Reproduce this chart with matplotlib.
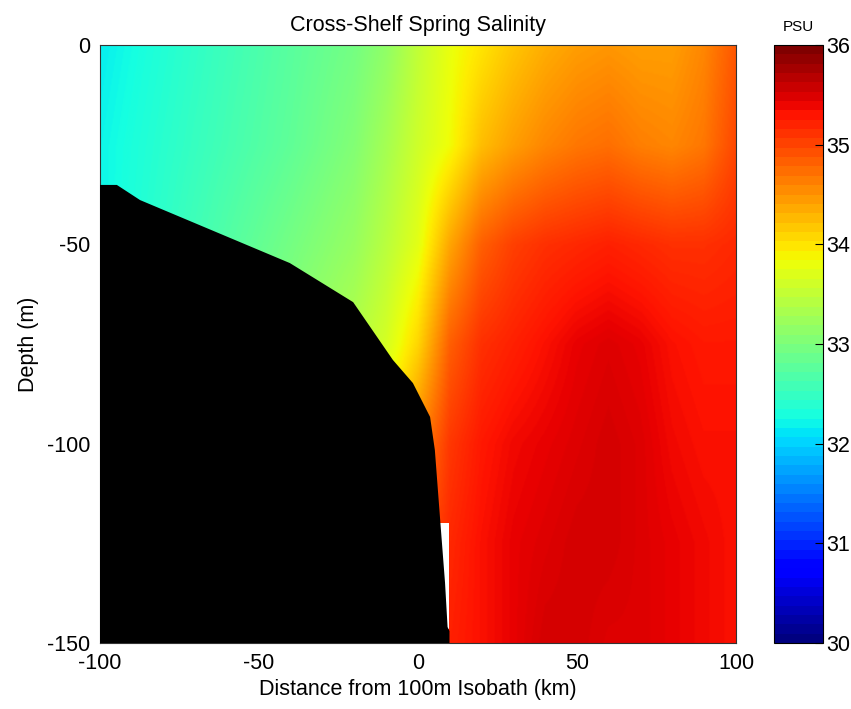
import numpy as np
import matplotlib
matplotlib.use("Agg")
import matplotlib.pyplot as plt
from matplotlib.colors import Normalize
from matplotlib.cm import ScalarMappable

plt.rcParams['font.family'] = ['Liberation Sans', 'DejaVu Sans']
plt.rcParams['axes.unicode_minus'] = False

# Section grid: distance from the 100 m isobath (km) and depth (m)
dist_km = [-100, -80, -60, -40, -20, -10, 0, 10, 20, 30, 40, 50, 60, 70, 80, 90, 100]
depth_m = [0, -25, -50, -75, -100, -125, -150]

# Salinity (PSU), one row per depth level
sal_0   = [32.15, 32.35, 32.55, 32.75, 32.95, 33.15, 33.50, 33.80, 34.00, 34.20, 34.35, 34.45, 34.50, 34.45, 34.45, 34.60, 34.90]
sal_25  = [32.20, 32.40, 32.60, 32.80, 33.05, 33.30, 33.60, 33.85, 34.25, 34.45, 34.60, 34.70, 34.75, 34.65, 34.60, 34.70, 35.00]
sal_50  = [32.20, 32.45, 32.70, 32.95, 33.20, 33.45, 33.75, 34.40, 34.85, 35.05, 35.15, 35.20, 35.25, 35.20, 35.15, 35.15, 35.20]
sal_75  = [32.30, 32.50, 32.80, 33.10, 33.40, 33.65, 34.10, 34.85, 35.15, 35.25, 35.35, 35.45, 35.50, 35.45, 35.35, 35.30, 35.30]
sal_100 = [32.40, 32.60, 32.90, 33.20, 33.60, 34.00, 34.60, 35.10, 35.30, 35.40, 35.45, 35.50, 35.55, 35.50, 35.40, 35.35, 35.35]
sal_125 = [32.50, 32.70, 33.00, 33.30, 33.80, 34.30, 34.90, 35.20, 35.35, 35.45, 35.50, 35.55, 35.55, 35.50, 35.45, 35.40, 35.35]
sal_150 = [32.60, 32.80, 33.10, 33.40, 34.00, 34.50, 35.00, 35.25, 35.35, 35.45, 35.55, 35.55, 35.50, 35.50, 35.45, 35.40, 35.35]

# Bottom profile (km, m)
bath_x = [-100.0, -94.7, -87.4, -40.3, -20.4, -7.9, -1.6, 3.8, 5.3, 6.9, 8.5, 9.3, 9.9, 9.9]
bath_z = [-35.1, -35.1, -38.9, -54.7, -64.5, -79.0, -84.8, -93.3, -101.6, -118.4, -134.9, -146.0, -147.0, -150.0]

# Gap with no observations next to the slope
gap_x = [5.0, 9.8, 9.8, 5.0]
gap_z = [-119.8, -119.8, -146.5, -146.5]

sal = np.array([sal_0, sal_25, sal_50, sal_75, sal_100, sal_125, sal_150])
dx = np.array(dist_km, dtype=float)
dz = np.array(depth_m, dtype=float)

# Bilinear interpolation onto a fine grid (interpolated shading)
xf = np.linspace(-100, 100, 601)
zf = np.linspace(0, -150, 451)
rows = np.array([np.interp(xf, dx, r) for r in sal])
field = np.array([np.interp(-zf, -dz, rows[:, j]) for j in range(xf.size)]).T

norm = Normalize(30, 36)

fig = plt.figure(figsize=(8.51, 7.09), dpi=100)
ax = fig.add_axes([100 / 851, 1 - 643 / 709, 636 / 851, 598 / 709])
ax.imshow(field, extent=[-100, 100, -150, 0], origin='upper', aspect='auto',
          cmap='jet', norm=norm, interpolation='bicubic')
ax.fill(gap_x, gap_z, color='white', lw=0, zorder=2)
ax.fill(bath_x + [-100.0], bath_z + [-150.0], color='black', lw=0, zorder=3)

ax.set_xlim(-100, 100)
ax.set_ylim(-150, 0)
ax.set_xticks([-100, -50, 0, 50, 100])
ax.set_yticks([-150, -100, -50, 0])
ax.tick_params(length=0, labelsize=15.5, pad=7)
for s in ax.spines.values():
    s.set_linewidth(0.8)
    s.set_color('#333333')
ax.set_title('Cross-Shelf Spring Salinity', fontsize=15.5, pad=10)
ax.set_xlabel('Distance from 100m Isobath (km)', fontsize=15.5, labelpad=4)
ax.set_ylabel('Depth (m)', fontsize=15.5, labelpad=6)

cax = fig.add_axes([774 / 851, 1 - 643 / 709, 49 / 851, 598 / 709])
cb = fig.colorbar(ScalarMappable(norm=norm, cmap=plt.get_cmap('jet', 64)), cax=cax)
cb.set_ticks([30, 31, 32, 33, 34, 35, 36])
cb.outline.set_linewidth(0.8)
cax.tick_params(direction='in', length=6, width=0.8, labelsize=15.5, pad=2)
cax.set_title('PSU', fontsize=11, pad=10)

fig.savefig('out.png', dpi=100)
